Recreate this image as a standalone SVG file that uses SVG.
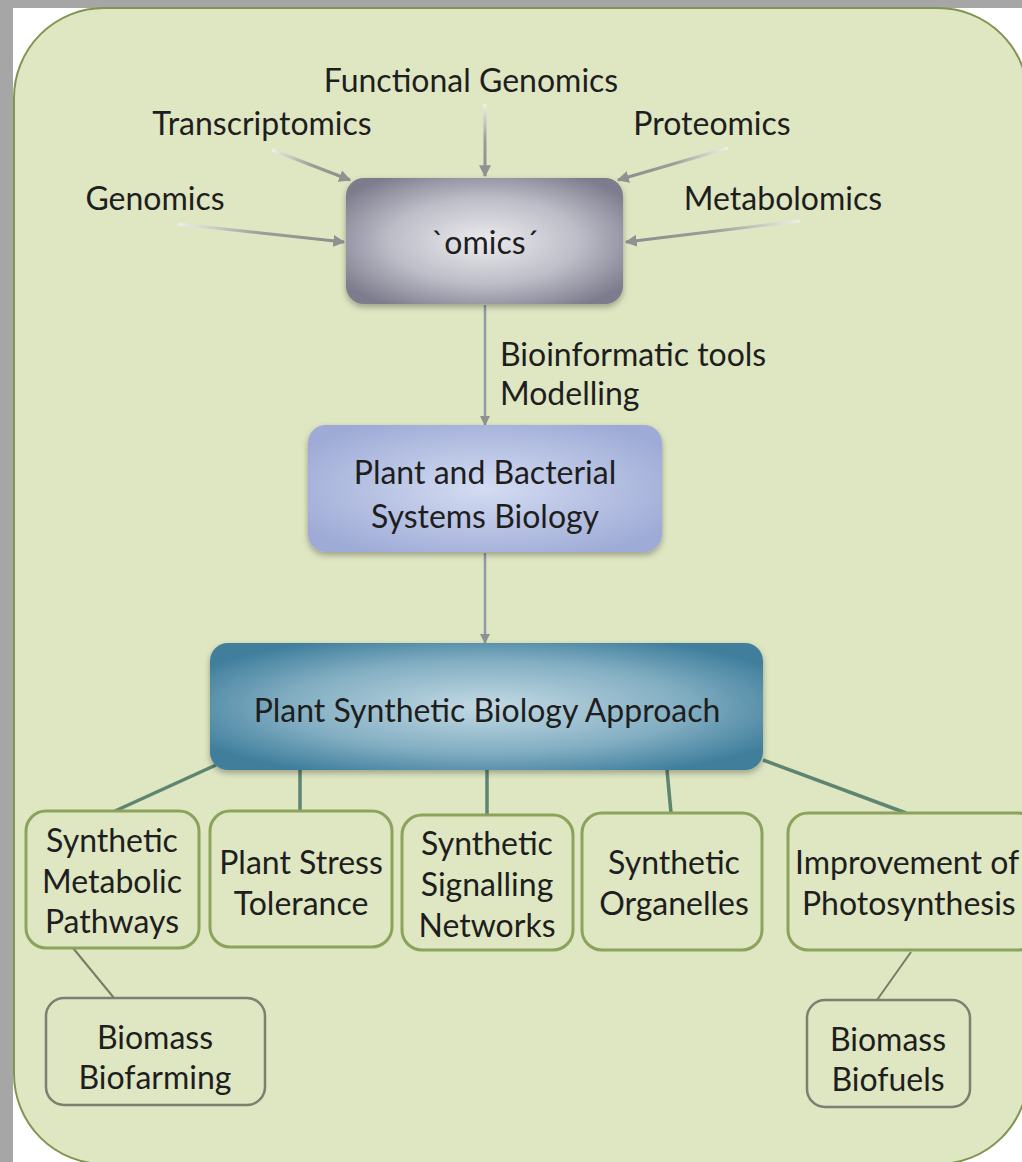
<svg xmlns="http://www.w3.org/2000/svg" width="1022" height="1162" viewBox="0 0 1022 1162">
  <defs>
    <style>
      .lbl { font-family: Lato, "Open Sans", "Liberation Sans", sans-serif; font-size: 32px; fill: #1e1e1e; text-anchor: middle; }
      .left { text-anchor: start; }
      .feed { stroke-width: 3; fill: none; marker-end: url(#tipGray); }
      .flow { stroke: #8f9aa6; stroke-width: 2.5; fill: none; marker-end: url(#tipGray); }
      .branch { stroke: #5e8472; stroke-width: 3.5; fill: none; }
      .sub { stroke: #767d66; stroke-width: 2; fill: none; }
      .area { fill: #dee6c2; stroke: #8ba35a; stroke-width: 3; }
      .area2 { fill: #dee6c2; stroke: #7c8070; stroke-width: 2.5; }
    </style>
    <marker id="tipGray" viewBox="0 0 10 10" refX="9" refY="5" markerWidth="4" markerHeight="4" orient="auto">
      <path d="M0,0 L10,5 L0,10 z" fill="#8e9290"/>
    </marker>
    <!-- feed lines fade in from their label end -->
    <linearGradient id="fFunc" gradientUnits="userSpaceOnUse" x1="485" y1="104" x2="485" y2="176">
      <stop offset="0" stop-color="#eef1e6"/><stop offset="0.5" stop-color="#9a9e98"/><stop offset="1" stop-color="#8a8e8c"/>
    </linearGradient>
    <linearGradient id="fTrans" gradientUnits="userSpaceOnUse" x1="272" y1="150" x2="350" y2="180">
      <stop offset="0" stop-color="#eef1e6"/><stop offset="0.5" stop-color="#9a9e98"/><stop offset="1" stop-color="#8a8e8c"/>
    </linearGradient>
    <linearGradient id="fProt" gradientUnits="userSpaceOnUse" x1="728" y1="148" x2="618" y2="180">
      <stop offset="0" stop-color="#eef1e6"/><stop offset="0.5" stop-color="#9a9e98"/><stop offset="1" stop-color="#8a8e8c"/>
    </linearGradient>
    <linearGradient id="fGen" gradientUnits="userSpaceOnUse" x1="178" y1="224" x2="344" y2="242">
      <stop offset="0" stop-color="#eef1e6"/><stop offset="0.5" stop-color="#9a9e98"/><stop offset="1" stop-color="#8a8e8c"/>
    </linearGradient>
    <linearGradient id="fMet" gradientUnits="userSpaceOnUse" x1="800" y1="221" x2="626" y2="242">
      <stop offset="0" stop-color="#eef1e6"/><stop offset="0.5" stop-color="#9a9e98"/><stop offset="1" stop-color="#8a8e8c"/>
    </linearGradient>
    <radialGradient id="gOmics" cx="0.5" cy="0.5" r="0.62">
      <stop offset="0" stop-color="#ebebee"/>
      <stop offset="0.55" stop-color="#bdbdc8"/>
      <stop offset="1" stop-color="#7b7b8c"/>
    </radialGradient>
    <radialGradient id="gSys" cx="0.5" cy="0.5" r="0.6">
      <stop offset="0" stop-color="#d4dcf2"/>
      <stop offset="1" stop-color="#9eabd6"/>
    </radialGradient>
    <radialGradient id="gSyn" cx="0.5" cy="0.5" r="0.6">
      <stop offset="0" stop-color="#c3dae4"/>
      <stop offset="0.6" stop-color="#82aec2"/>
      <stop offset="1" stop-color="#3f7e9c"/>
    </radialGradient>
    <filter id="soft" x="-10%" y="-10%" width="120%" height="130%">
      <feDropShadow dx="0" dy="3" stdDeviation="3" flood-color="#000" flood-opacity="0.3"/>
    </filter>
  </defs>

  <!-- page and frame -->
  <rect x="0" y="0" width="1022" height="1162" fill="#ffffff"/>
  <rect x="0" y="0" width="1022" height="8" fill="#a6a6a6"/>
  <rect x="0" y="0" width="13" height="1162" fill="#a6a6a6"/>
  <rect x="14" y="8" width="1014" height="1156" rx="90" fill="#dee6c2" stroke="#7f9550" stroke-width="2"/>

  <!-- connectors -->
  <g id="connectors">
    <line class="feed" stroke="url(#fFunc)" x1="485" y1="104" x2="485.01" y2="176"/>
    <line class="feed" stroke="url(#fTrans)" x1="272" y1="150" x2="350" y2="180"/>
    <line class="feed" stroke="url(#fProt)" x1="728" y1="148" x2="618" y2="180"/>
    <line class="feed" stroke="url(#fGen)" x1="178" y1="224" x2="344" y2="242"/>
    <line class="feed" stroke="url(#fMet)" x1="800" y1="221" x2="626" y2="242"/>
    <line class="flow" x1="485" y1="305" x2="485" y2="425"/>
    <line class="flow" x1="485" y1="553" x2="485" y2="643"/>
    <line class="branch" x1="216" y1="765" x2="115" y2="811"/>
    <line class="branch" x1="300" y1="770" x2="300" y2="811"/>
    <line class="branch" x1="487" y1="770" x2="487" y2="815"/>
    <line class="branch" x1="667" y1="770" x2="671" y2="813"/>
    <line class="branch" x1="763" y1="760" x2="906" y2="813"/>
    <line class="sub" x1="73" y1="948" x2="114" y2="998"/>
    <line class="sub" x1="911" y1="952" x2="877" y2="1000"/>
  </g>

  <!-- source labels -->
  <g id="functional-genomics"><text class="lbl" x="471" y="92">Functional Genomics</text></g>
  <g id="transcriptomics"><text class="lbl" x="262" y="135">Transcriptomics</text></g>
  <g id="proteomics"><text class="lbl" x="712" y="135">Proteomics</text></g>
  <g id="genomics"><text class="lbl" x="155" y="210">Genomics</text></g>
  <g id="metabolomics"><text class="lbl" x="783" y="210">Metabolomics</text></g>

  <!-- omics hub -->
  <g id="omics">
    <rect x="346" y="178" width="277" height="126" rx="18" fill="url(#gOmics)" filter="url(#soft)"/>
    <text class="lbl" x="485" y="254">`omics´</text>
  </g>

  <g id="tools-label">
    <text class="lbl left" x="500" y="366">Bioinformatic tools</text>
    <text class="lbl left" x="500" y="405">Modelling</text>
  </g>

  <g id="systems-biology">
    <rect x="308" y="425" width="354" height="127" rx="18" fill="url(#gSys)" filter="url(#soft)"/>
    <text class="lbl" x="485" y="484">Plant and Bacterial</text>
    <text class="lbl" x="485" y="528">Systems Biology</text>
  </g>

  <g id="synthetic-approach">
    <rect x="210" y="643" width="553" height="127" rx="18" fill="url(#gSyn)" filter="url(#soft)"/>
    <text class="lbl" x="487" y="722">Plant Synthetic Biology Approach</text>
  </g>

  <!-- application areas -->
  <g id="metabolic-pathways">
    <rect class="area" x="26" y="811" width="173" height="137" rx="20"/>
    <text class="lbl" x="112" y="852">Synthetic</text>
    <text class="lbl" x="112" y="893">Metabolic</text>
    <text class="lbl" x="112" y="933">Pathways</text>
  </g>
  <g id="stress-tolerance">
    <rect class="area" x="210" y="811" width="182" height="136" rx="20"/>
    <text class="lbl" x="301" y="874">Plant Stress</text>
    <text class="lbl" x="301" y="915">Tolerance</text>
  </g>
  <g id="signalling-networks">
    <rect class="area" x="402" y="815" width="171" height="135" rx="20"/>
    <text class="lbl" x="487" y="855">Synthetic</text>
    <text class="lbl" x="487" y="896">Signalling</text>
    <text class="lbl" x="487" y="937">Networks</text>
  </g>
  <g id="organelles">
    <rect class="area" x="582" y="813" width="180" height="137" rx="20"/>
    <text class="lbl" x="674" y="874">Synthetic</text>
    <text class="lbl" x="674" y="915">Organelles</text>
  </g>
  <g id="photosynthesis">
    <rect class="area" x="788" y="813" width="250" height="137" rx="20"/>
    <text class="lbl left" x="795" y="874">Improvement of</text>
    <text class="lbl left" x="802" y="915">Photosynthesis</text>
  </g>

  <g id="biofarming">
    <rect class="area2" x="46" y="998" width="219" height="107" rx="18"/>
    <text class="lbl" x="155" y="1049">Biomass</text>
    <text class="lbl" x="155" y="1089">Biofarming</text>
  </g>
  <g id="biofuels">
    <rect class="area2" x="807" y="1000" width="163" height="107" rx="18"/>
    <text class="lbl" x="888" y="1051">Biomass</text>
    <text class="lbl" x="888" y="1091">Biofuels</text>
  </g>
</svg>
